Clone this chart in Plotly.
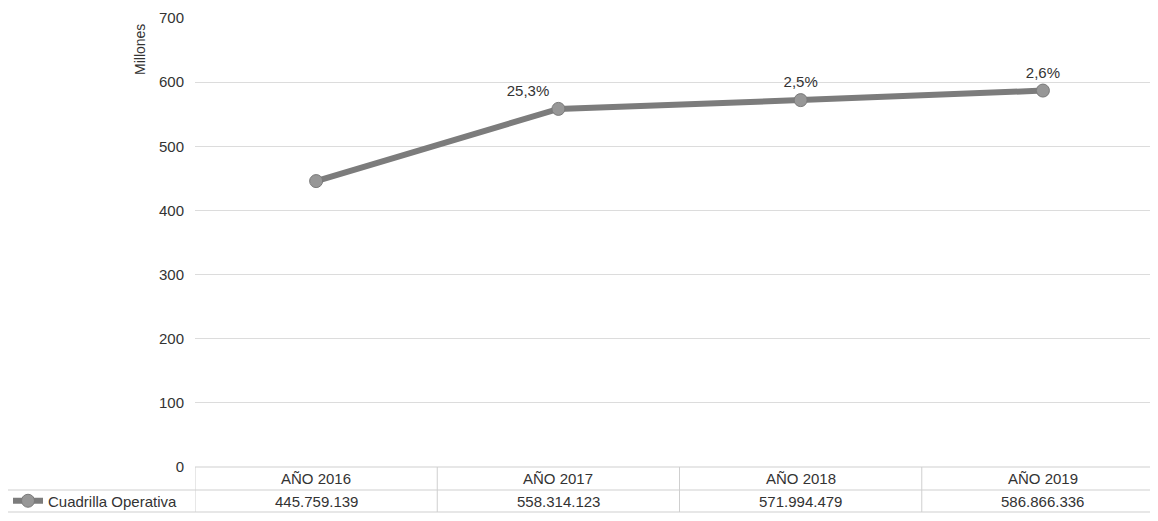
import plotly.graph_objects as go

categories = ["AÑO 2016", "AÑO 2017", "AÑO 2018", "AÑO 2019"]
values = [445759139, 558314123, 571994479, 586866336]
value_labels = ["445.759.139", "558.314.123", "571.994.479", "586.866.336"]
pct_labels = ["", "25,3%", "2,5%", "2,6%"]
series_name = "Cuadrilla Operativa"
y_ticks = [0, 100, 200, 300, 400, 500, 600, 700]

OFF = 8  # default body margin of the html page
W, H = 1158 - OFF, 521 - OFF
ml, mr, mt, mb = 195 - OFF, 0, 18 - OFF, 54
ph = H - mt - mb
pw = W - ml - mr
plot_bottom = H - mb  # figure px

y_mill = [v / 1e6 for v in values]
xs = list(range(len(categories)))

FONT = "Liberation Sans, Arial, sans-serif"
font = dict(family=FONT, size=15, color="#333")

fig = go.Figure()
fig.add_trace(go.Scatter(
    x=xs, y=y_mill, mode="lines+markers+text", name=series_name,
    line=dict(color="#7c7c7c", width=6),
    marker=dict(size=13, color="#979797", line=dict(color="#7a7a7a", width=1)),
    text=pct_labels, textposition=["top center", "top left", "top center", "top center"],
    textfont=font, cliponaxis=False, showlegend=True,
))


def py(px_fig):
    return (plot_bottom - px_fig) / ph


annotations = [dict(text="Millones", textangle=-90, xref="paper", yref="paper",
                    x=(140 - OFF - ml) / pw, y=py(50 - OFF), showarrow=False,
                    xanchor="center", yanchor="middle",
                    font=dict(family=FONT, size=14, color="#333"))]
shapes = []
y_top = 0
y_mid = py(490 - OFF)
y_bot = py(512 - OFF)
for i, c in enumerate(categories):
    annotations.append(dict(text=c, x=i, xref="x", yref="paper", y=(y_top + y_mid) / 2,
                            showarrow=False, font=font, yanchor="middle"))
    annotations.append(dict(text=value_labels[i], x=i, xref="x", yref="paper", y=(y_mid + y_bot) / 2,
                            showarrow=False, font=font, yanchor="middle"))
grid_col = "#cfcfcf"
shapes.append(dict(type="line", xref="paper", yref="paper", x0=0, x1=1, y0=y_top, y1=y_top,
                   line=dict(color=grid_col, width=1)))
for yy in [y_mid, y_bot]:
    shapes.append(dict(type="line", xref="paper", yref="paper", x0=-ml / pw, x1=1, y0=yy, y1=yy,
                       line=dict(color=grid_col, width=1)))
for b in [-0.5, 0.5, 1.5, 2.5, 3.5]:
    shapes.append(dict(type="line", xref="x", yref="paper", x0=b, x1=b, y0=y_top, y1=y_bot,
                       line=dict(color=grid_col, width=1)))

fig.update_layout(
    width=W, height=H,
    margin=dict(l=ml, r=mr, t=mt, b=mb),
    paper_bgcolor="white", plot_bgcolor="white",
    font=font,
    xaxis=dict(range=[-0.5, 3.475], showticklabels=False, showgrid=False, zeroline=False,
               tickvals=xs),
    yaxis=dict(range=[0, 700], tickvals=y_ticks, showgrid=True, gridcolor="#dcdcdc",
               zeroline=False, ticks="", tickfont=font, ticklabelstandoff=10),
    legend=dict(x=(0 - ml) / pw, y=(y_mid + y_bot) / 2, xanchor="left", yanchor="middle",
                bgcolor="rgba(0,0,0,0)", font=font, itemwidth=30, tracegroupgap=0),
    annotations=annotations, shapes=shapes,
)
fig.write_html("out.html")
